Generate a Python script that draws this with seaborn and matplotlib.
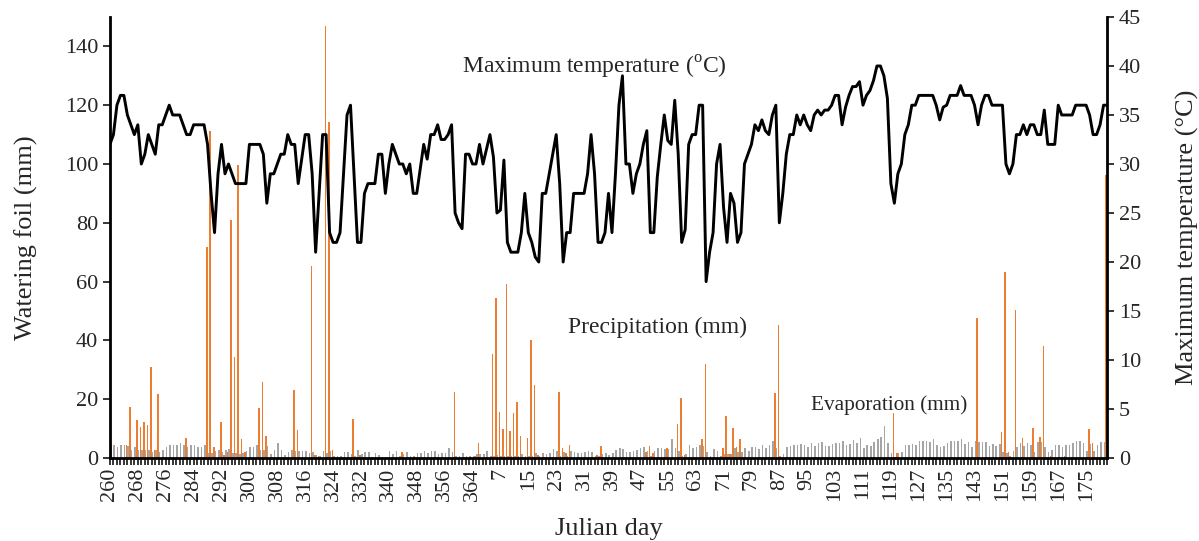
import numpy as np
import pandas as pd
import matplotlib
matplotlib.use("Agg")
import matplotlib.pyplot as plt
import seaborn as sns


# Julian days of the season: 260..365, then 1..181
days = list(range(260, 366)) + list(range(1, 182))

# Maximum temperature (degC), one value per day
tmax = [
    32, 33, 36, 37, 37, 35, 34, 33, 34, 30, 31, 33, 32, 31, 34, 34, 35, 36, 35, 35,
    35, 34, 33, 33, 34, 34, 34, 34, 32, 27, 23, 29, 32, 29, 30, 29, 28, 28, 28, 28,
    32, 32, 32, 32, 31, 26, 29, 29, 30, 31, 31, 33, 32, 32, 28, 30.5, 33, 33, 29, 21,
    27, 33, 33, 23, 22, 22, 23, 29, 35, 36, 29, 22, 22, 27, 28, 28, 28, 31, 31, 27,
    30, 32, 31, 30, 30, 29, 30, 27, 27, 29.5, 32, 30.5, 33, 33, 34, 32.5, 32.5, 33, 34, 25,
    24, 23.4, 31, 31, 30, 30, 32, 30, 31.5, 33, 30.7, 25, 25.3, 30.4, 22, 21, 21, 21, 23, 27,
    23, 22, 20.5, 20, 27, 27, 29, 31, 33, 28, 20, 23, 23, 27, 27, 27, 27, 29, 33, 29,
    22, 22, 23, 27, 23, 29, 36, 39, 30, 30, 27, 29, 30, 32, 33.4, 23, 23, 28.7, 32, 35,
    32.4, 32, 36.5, 31, 22, 23.3, 32, 33, 33, 36, 36, 18, 21, 23, 30, 32, 25.6, 22, 27, 26,
    22, 23, 30, 31, 32, 34, 33.4, 34.5, 33.4, 33, 35, 36, 24, 27, 31, 33, 33, 35, 34, 35,
    34, 33.4, 35, 35.5, 35, 35.5, 35.5, 36, 37, 37, 34, 35.8, 37, 37.9, 37.9, 38.4, 36, 37, 37.5, 38.5,
    40, 40, 39, 36.7, 28, 26, 29, 30, 33, 34, 36, 36, 37, 37, 37, 37, 37, 36, 34.5, 35.8,
    36, 37, 37, 37, 38, 37, 37, 37, 36, 34, 36, 37, 37, 36, 36, 36, 36, 30, 29, 30,
    33, 33, 34, 33, 34, 34, 33, 33, 35.5, 32, 32, 32, 36, 35, 35, 35, 35, 36, 36, 36,
    36, 35, 33, 33, 34, 36, 36,
]

# Evaporation (mm), one value per day
evap = [
    4.5, 4.5, 3.6, 4.5, 4.5, 4.0, 2.7, 3.6, 2.7, 2.7, 2.7, 2.7, 1.9, 2.7, 2.0, 2.7, 3.6, 4.5, 4.5, 4.5,
    5.1, 4.5, 3.6, 4.5, 4.5, 3.6, 3.6, 4.5, 1.7, 1.7, 2.3, 2.7, 2.0, 2.7, 3.0, 1.7, 1.7, 1.4, 1.7, 2.5,
    3.6, 3.6, 4.5, 2.7, 2.7, 4.0, 1.4, 2.7, 5.1, 2.7, 1.1, 1.9, 2.7, 2.3, 2.3, 2.5, 2.5, 1.7, 1.9, 1.1,
    0.8, 2.5, 1.7, 2.3, 0.8, 0.6, 0.8, 1.9, 1.9, 1.4, 0.6, 2.6, 1.4, 1.9, 1.9, 0.5, 1.7, 1.1, 0.2, 0.3,
    2.4, 1.4, 2.3, 0.8, 1.4, 1.9, 0.6, 0.8, 1.7, 1.7, 2.3, 1.7, 2.5, 2.3, 1.4, 1.6, 1.6, 3.4, 1.9, 0.6,
    0.8, 1.7, 0.8, 0.8, 0.8, 1.4, 1.4, 1.4, 2.3, 0.8, 0.8, 1.1, 0.8, 0.8, 0.8, 0.8, 0.8, 0.8, 1.4, 0.8,
    0.6, 0.8, 1.7, 0.8, 1.6, 1.4, 1.6, 3.0, 2.5, 0.8, 1.9, 0.6, 2.5, 1.9, 1.6, 1.6, 1.9, 2.3, 1.9, 0.8,
    0.8, 1.4, 1.6, 1.0, 1.6, 2.8, 3.4, 3.0, 1.9, 1.9, 2.3, 2.7, 3.4, 3.6, 2.3, 0.8, 2.5, 3.4, 3.4, 3.0,
    3.0, 6.5, 3.4, 2.5, 0.8, 1.4, 4.4, 3.4, 3.9, 4.5, 4.0, 1.9, 0.8, 3.0, 2.5, 0.8, 1.4, 1.4, 1.4, 3.4,
    1.9, 1.9, 3.4, 2.5, 3.9, 3.9, 3.0, 4.5, 3.4, 4.5, 5.9, 3.4, 0.8, 1.4, 3.6, 4.2, 4.5, 4.5, 4.8, 4.5,
    3.6, 5.1, 4.2, 5.1, 5.6, 4.0, 4.2, 4.8, 5.1, 5.1, 5.9, 4.5, 4.8, 6.1, 5.1, 6.7, 3.4, 4.5, 4.2, 5.3,
    6.5, 7.0, 10.8, 5.1, 1.7, 0.2, 1.7, 2.2, 4.5, 4.5, 4.8, 4.5, 5.7, 5.9, 5.7, 5.6, 6.3, 4.5, 3.6, 4.0,
    5.1, 5.7, 5.7, 5.9, 6.5, 4.8, 5.6, 3.6, 5.9, 5.3, 5.3, 5.3, 4.0, 4.8, 4.2, 4.8, 1.9, 1.7, 0.8, 2.5,
    3.6, 5.1, 4.2, 5.1, 4.5, 1.9, 5.3, 5.3, 3.6, 1.9, 2.8, 4.5, 4.5, 3.6, 4.5, 4.5, 5.1, 5.9, 5.7, 5.1,
    2.5, 4.8, 2.5, 4.5, 5.3, 5.3, 1.0,
]

# Precipitation (mm) on the rainy days only
rain_days = [
    265, 266, 268, 269, 270, 271, 272, 273, 274, 282, 288, 289, 290, 292, 293, 294, 295, 296, 297, 298,
    299, 303, 304, 305, 313, 314, 318, 319, 320, 322, 323, 324, 330, 332, 344, 359, 365,
    1, 5, 6, 7, 8, 9, 10, 11, 12, 13, 15, 16, 17, 18, 24, 25, 26, 27, 35, 36, 49, 50, 51,
    55, 58, 59, 60, 65, 66, 71, 72, 73, 74, 75, 76, 83, 86, 87, 120, 121, 144, 151, 152, 153,
    155, 157, 160, 162, 163, 165, 169, 176, 177, 181,
]
rain_mm = [
    4.3, 17.3, 12.8, 10.5, 12.2, 11.3, 31.0, 2.8, 21.9, 6.9, 71.7, 111.2, 3.7, 12.2, 1.0, 2.0, 80.8, 34.3, 99.8, 6.3,
    2.0, 17.0, 25.8, 7.4, 23.0, 9.6, 65.3, 1.0, 0.8, 146.8, 114.3, 2.7, 13.1, 1.0, 2.1, 22.4, 0.7,
    5.1, 35.3, 54.4, 15.8, 9.7, 59.3, 9.3, 15.2, 19.2, 7.6, 6.7, 40.2, 24.9, 1.0, 22.5, 3.3, 1.7, 4.5, 1.1, 4.2, 2.2, 4.2, 1.8,
    3.3, 11.6, 20.3, 1.0, 6.3, 32.0, 3.3, 14.3, 1.4, 10.3, 3.6, 6.3, 0.3, 22.0, 45.2, 15.4, 1.7, 47.5, 8.7, 63.1, 2.2,
    50.4, 6.8, 10.2, 7.0, 38.2, 0.8, 0.8, 9.7, 5.0, 96.4,
]

orange = "#ED7D31"
grey = "#A5A5A5"

n = len(days)
pos = list(range(n))
rain_lookup = dict(zip(rain_days, rain_mm))
precip = [rain_lookup.get(d, 0.0) for d in days]

bars = pd.DataFrame({
    "pos": pos + pos,
    "mm": precip + evap,
    "series": ["Precipitation"] * n + ["Evaporation"] * n,
})

sns.set_style("ticks")
plt.rcParams["font.family"] = ["Liberation Serif", "DejaVu Serif"]
plt.rcParams["mathtext.fontset"] = "custom"
plt.rcParams["mathtext.rm"] = "Liberation Serif"

fig, ax = plt.subplots(figsize=(11.99, 5.41), dpi=100)
fig.subplots_adjust(left=0.0917, right=0.9233, bottom=0.1534, top=0.9686)

sns.barplot(data=bars, x="pos", y="mm", hue="series",
            hue_order=["Precipitation", "Evaporation"],
            palette=[orange, grey], saturation=1, width=0.9, errorbar=None,
            linewidth=0, legend=False, ax=ax)
# bars are only ~1.5 px wide: draw them without antialiasing so the colour stays solid
for p in ax.patches:
    p.set_antialiased(False)

ax2 = ax.twinx()
sns.lineplot(x=pos, y=tmax, ax=ax2, color="black", linewidth=2.1)

# axes
ax.set_xlim(0, n - 1)
ax.set_ylim(0, 150)
ax.set_yticks(range(0, 141, 20))
ax2.set_ylim(0, 45)
ax2.set_yticks(range(0, 46, 5))

ax.set_xticks(pos[::8])
ax.set_xticklabels([str(d) for d in days[::8]], rotation=90)
ax.set_xticks(pos, minor=True)

for a in (ax, ax2):
    a.spines["top"].set_visible(False)
    for s in a.spines.values():
        s.set_linewidth(2.0)
        s.set_color("black")
ax.spines["right"].set_visible(False)
ax2.spines["left"].set_visible(False)
ax2.spines["bottom"].set_visible(False)

ax.tick_params(axis="x", which="both", length=5, width=1.3, labelsize=16, pad=2)
ax.tick_params(axis="y", length=5, width=1.3, labelsize=16)
ax2.tick_params(axis="y", length=5, width=1.3, labelsize=16)

ax.set_xlabel("Julian day", fontsize=19, labelpad=12)
ax.set_ylabel("Watering foil (mm)", fontsize=19, labelpad=19)
ax2.set_ylabel("Maximum temperature (°C)", fontsize=19, labelpad=25)

# series labels inside the plot
ax.text(101, 133.0, r"Maximum temperature ($^{\mathrm{o}}$C)", fontsize=17, va="center", ha="left")
ax.text(131.5, 44.5, "Precipitation (mm)", fontsize=17, va="center", ha="left")
ax.text(201, 18, "Evaporation (mm)", fontsize=15.3, va="center", ha="left")

fig.savefig("out.png", dpi=100)
